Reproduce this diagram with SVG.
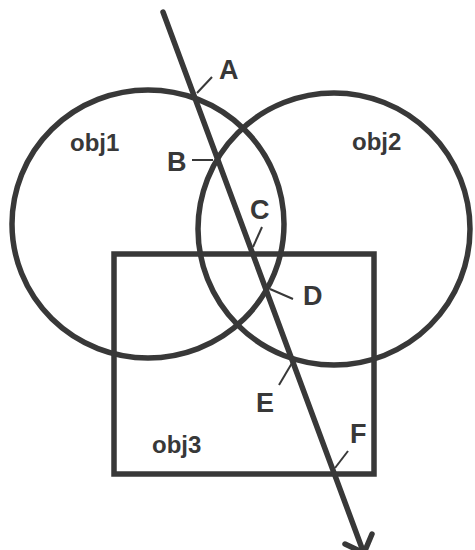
<svg xmlns="http://www.w3.org/2000/svg" width="475" height="550" viewBox="0 0 475 550">
<style>
.shape{fill:none;stroke:#383838;stroke-width:5.5}
.lead{fill:none;stroke:#383838;stroke-width:2}
.ray{fill:none;stroke:#383838;stroke-width:5.5;stroke-linecap:round;stroke-linejoin:round}
.lbl{font-family:"Liberation Sans",Arial,sans-serif;font-weight:bold;fill:#383838}
.pt{font-size:27px}
.obj{font-size:24px}
</style>
<rect width="475" height="550" fill="#ffffff"/>
<g id="obj1">
<ellipse class="shape" cx="148" cy="224" rx="136" ry="134"/>
<text class="lbl obj" x="70" y="151">obj1</text>
</g>
<g id="obj2">
<ellipse class="shape" cx="334" cy="229" rx="136" ry="136"/>
<text class="lbl obj" x="352" y="150">obj2</text>
</g>
<g id="obj3">
<rect class="shape" x="114" y="254" width="260" height="220"/>
<text class="lbl obj" x="152" y="453">obj3</text>
</g>
<g id="connectors">
<line class="ray" x1="163" y1="12" x2="363" y2="551"/>
<polyline class="ray" points="345,544 364,553 372,534"/>
</g>
<g id="labels">
<g id="A"><line class="lead" x1="197" y1="93" x2="212" y2="77"/><text class="lbl pt" x="219" y="79">A</text></g>
<g id="B"><line class="lead" x1="192" y1="160" x2="213" y2="160"/><text class="lbl pt" x="167" y="171">B</text></g>
<g id="C"><line class="lead" x1="262" y1="227" x2="253" y2="247"/><text class="lbl pt" x="250" y="219">C</text></g>
<g id="D"><line class="lead" x1="270" y1="289" x2="293" y2="299"/><text class="lbl pt" x="303" y="305">D</text></g>
<g id="E"><line class="lead" x1="292" y1="363" x2="279" y2="385"/><text class="lbl pt" x="256" y="412">E</text></g>
<g id="F"><line class="lead" x1="348" y1="451" x2="335" y2="468"/><text class="lbl pt" x="350" y="443">F</text></g>
</g>
</svg>
